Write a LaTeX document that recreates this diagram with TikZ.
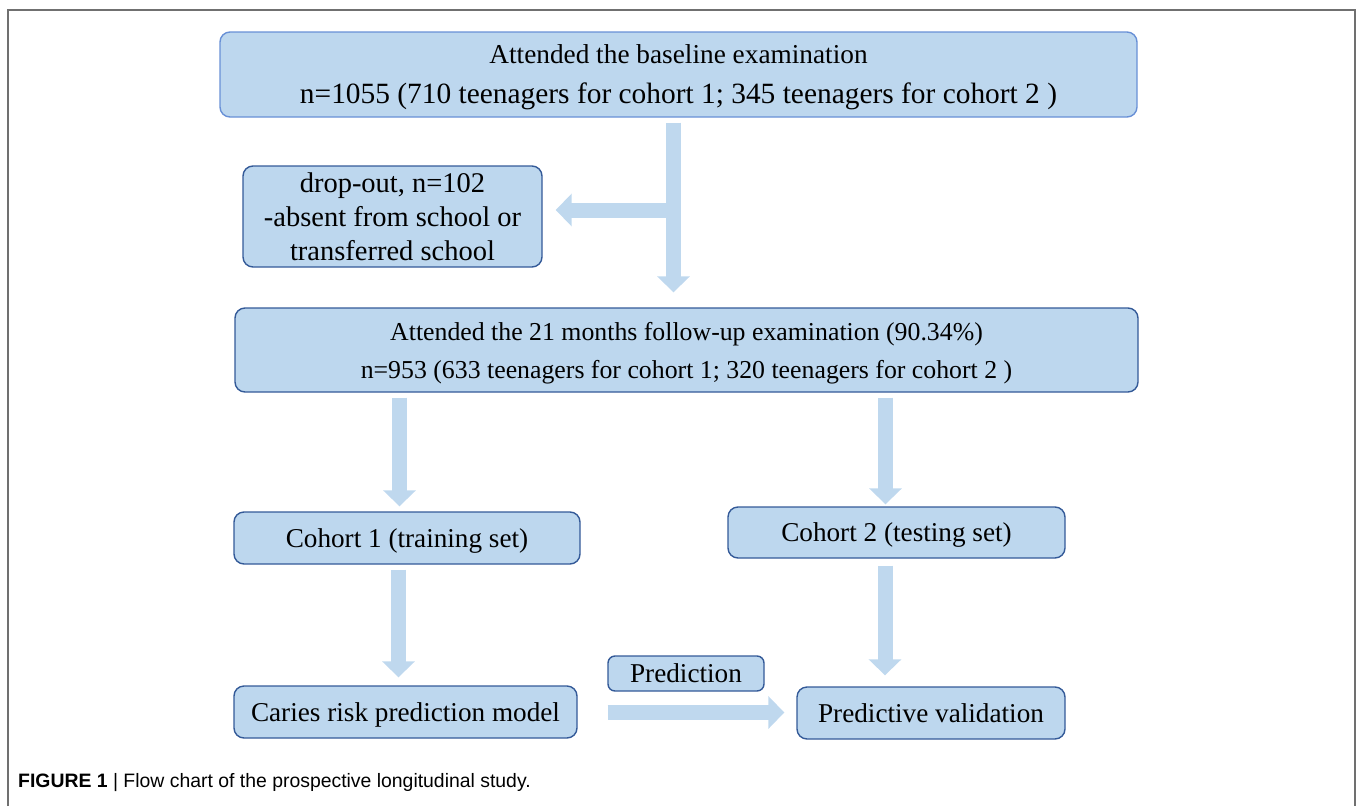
\documentclass[tikz,border=0pt]{standalone}
\usepackage{fontspec}
\setmainfont{Liberation Serif}
\setsansfont{Liberation Sans}
\usetikzlibrary{arrows.meta,positioning}
\definecolor{boxfill}{RGB}{189,215,238}
\definecolor{boxedge}{RGB}{52,90,152}
\definecolor{topedge}{RGB}{104,144,214}
\definecolor{flowfill}{RGB}{191,216,238}
\definecolor{framegray}{RGB}{112,112,112}

\begin{document}
\begin{tikzpicture}[x=1pt, y=-1pt,
    stage/.style={rectangle, draw=#1, fill=boxfill, line width=1.4pt, rounded corners=10pt, inner sep=0pt, text depth=0pt, align=center, font=\fontsize{27.2}{38}\selectfont},
    stage/.default=boxedge,
    flow/.style={-{Triangle[width=32pt,length=16pt]}, line width=15pt, draw=flowfill},
    caption/.style={anchor=west, inner sep=0pt, font=\sffamily\fontsize{19.4}{22}\selectfont}
  ]
    \useasboundingbox (0,0) rectangle (1357,806);
    % Frame
    \draw[framegray, line width=2pt] (8,806) -- (8,10) -- (1355,10) -- (1355,806);

    % Stages
    \node[stage=topedge, minimum width=917pt, minimum height=85pt, font=\fontsize{27.3}{40}\selectfont] (base) at (678.5,74.5)
      {Attended the baseline examination\\{\fontsize{29.4}{40}\selectfont n=1055 (710 teenagers for cohort 1; 345 teenagers for cohort 2 )}};
    \node[stage, minimum width=299pt, minimum height=101pt, text depth=, font=\fontsize{28.5}{34}\selectfont] (drop) at (392.5,216.5)
      {drop-out, n=102\\-absent from school or\\transferred school};
    \node[stage, minimum width=903pt, minimum height=84pt, font=\fontsize{25.8}{38}\selectfont] (follow) at (686.5,350)
      {Attended the 21 months follow-up examination (90.34\%)\\n=953 (633 teenagers for cohort 1; 320 teenagers for cohort 2 )};
    \node[stage, minimum width=346pt, minimum height=52pt] (train) at (407,538) {Cohort 1 (training set)};
    \node[stage, minimum width=337pt, minimum height=51pt] (test) at (896.5,532.5) {Cohort 2 (testing set)};
    \node[stage, minimum width=343pt, minimum height=52pt] (model) at (405.5,712) {Caries risk prediction model};
    \node[stage, minimum width=268pt, minimum height=52pt] (valid) at (931,713) {Predictive validation};
    \node[stage, minimum width=156pt, minimum height=35pt, rounded corners=7pt] (pred) at (686,673.5) {Prediction};

    % Flows
    \coordinate (split) at (666,210);
    \draw[flow] ([xshift=-5pt,yshift=-5pt]base.south) -- ([xshift=-13pt,yshift=15pt]follow.north);
    \draw[flow] (split) -- ([xshift=13pt,yshift=6.5pt]drop.east);
    \draw[flow] ([xshift=-287pt,yshift=-5pt]follow.south) -- ([xshift=-7.5pt,yshift=5pt]train.north);
    \draw[flow] ([xshift=199pt,yshift=-5pt]follow.south) -- ([xshift=-11pt,yshift=2pt]test.north);
    \draw[flow] ([xshift=-8.5pt,yshift=-5pt]train.south) -- ([xshift=-7pt,yshift=8pt]model.north);
    \draw[flow] ([xshift=-11.5pt,yshift=-7pt]test.south) -- ([xshift=-46pt,yshift=11pt]valid.north);
    \draw[flow] ([xshift=30pt,yshift=-0.5pt]model.east) -- ([xshift=-12pt,yshift=0.5pt]valid.west);

    % Caption
    \node[caption] (cap) at (18,783) {\textbf{FIGURE 1} | Flow chart of the prospective longitudinal study.};
  \end{tikzpicture}
\end{document}
